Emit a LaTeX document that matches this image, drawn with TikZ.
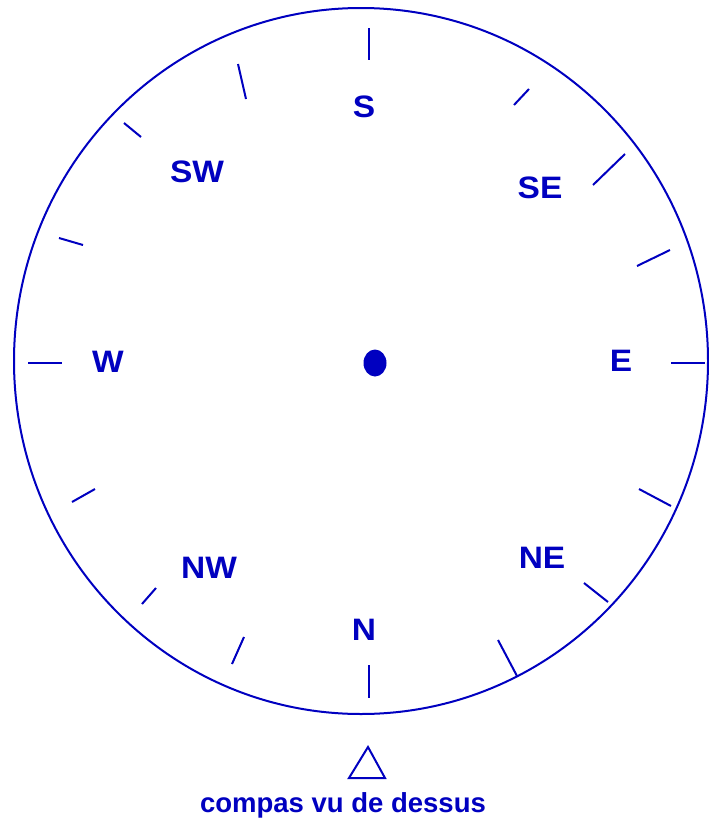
\documentclass[tikz,border=0pt]{standalone}
\usepackage{fontspec}
\setmainfont{Liberation Sans}
\newfontfamily\compfont[FakeStretch=1.08]{Liberation Sans}
\definecolor{compblue}{RGB}{0,0,192}
\tikzset{
  dirlabel/.style={font=\compfont\bfseries\fontsize{31}{31}\selectfont, text=compblue, inner sep=0pt},
  tickmark/.style={draw=compblue, line width=2pt}
}
\begin{document}
\begin{tikzpicture}[x=1pt, y=-1pt]
    \useasboundingbox (0,0) rectangle (709,822);

    % rim of the compass
    \draw[compblue, line width=2pt] (361,361) ellipse [x radius=347, y radius=353];
    \fill[compblue] (375,363) ellipse [x radius=11.5, y radius=13.5];

    % graduations
    \draw[tickmark] (369,28) -- (369,60);
    \draw[tickmark] (369,665) -- (369,698);
    \draw[tickmark] (28,363) -- (62,363);
    \draw[tickmark] (671,363) -- (705,363);
    \draw[tickmark] (238,64) -- (246,99);
    \draw[tickmark] (124,123) -- (141,137);
    \draw[tickmark] (59,238) -- (83,245);
    \draw[tickmark] (529,89) -- (514,105);
    \draw[tickmark] (625,154) -- (593,185);
    \draw[tickmark] (670,250) -- (637,266);
    \draw[tickmark] (95,489) -- (72,502);
    \draw[tickmark] (156,588) -- (142,604);
    \draw[tickmark] (244,637) -- (232,664);
    \draw[tickmark] (639,489) -- (671,506);
    \draw[tickmark] (584,583) -- (608,602);
    \draw[tickmark] (498,640) -- (517,676);

    % directions
    \node[dirlabel] (south) at (364,107) {S};
    \node[dirlabel] (southwest) at (197,172) {SW};
    \node[dirlabel] (southeast) at (540,188) {SE};
    \node[dirlabel] (west) at (108,362) {W};
    \node[dirlabel] (east) at (621,361) {E};
    \node[dirlabel] (northwest) at (209,568) {NW};
    \node[dirlabel] (northeast) at (542,558) {NE};
    \node[dirlabel] (north) at (364,630) {N};

    % pointer and caption
    \draw[compblue, line width=2pt, line join=miter] (368,747) -- (385,778) -- (349,778) -- cycle;
    \node[text=compblue, font=\bfseries\fontsize{27.5}{30}\selectfont, anchor=base, inner sep=0pt] (caption) at (343,812) {compas vu de dessus};
\end{tikzpicture}
\end{document}
